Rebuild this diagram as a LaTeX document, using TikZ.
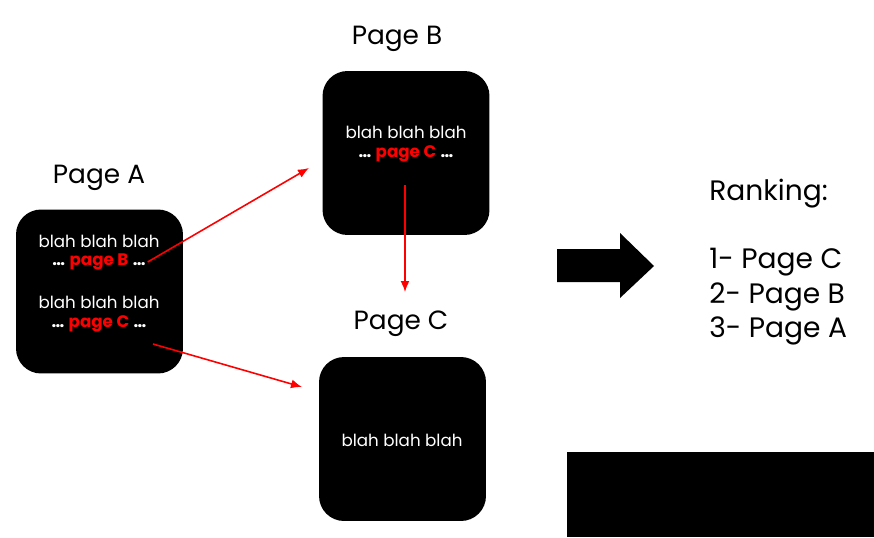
\documentclass[tikz,border=0pt]{standalone}
\usepackage{fontspec}
\setmainfont{Poppins}
\usetikzlibrary{arrows.meta}
\tikzset{
  pagebox/.style={fill=black, rounded corners=0.5cm, minimum width=3.34cm, minimum height=3.28cm},
  blah/.style={text=white, inner sep=1pt, font=\fontsize{9.5}{12}\selectfont},
  title/.style={font=\fontsize{15}{18}\selectfont},
  link/.style={red, line width=0.9pt, -{Latex[length=2.2mm,width=1.8mm]}},
}
\newcommand{\pagelink}[1]{\textbf{\ldots}\ \textcolor{red}{\textbf{#1}} \textbf{\ldots}}
\begin{document}
\begin{tikzpicture}[x=0.02cm,y=-0.02cm]
      \useasboundingbox (0,0) rectangle (874,537);
      % pages
      \draw
        (99.5,291.5) node[pagebox] (A){}
        (406,153) node[pagebox] (B){}
        (402.5,439) node[pagebox] (C){};
      \draw
        (99,178) node[title] (tA){Page A}
        (397,39) node[title] (tB){Page B}
        (401,324) node[title] (tC){Page C};
      % texts in the pages
      \node[blah] (a1) at (99,241) {blah blah blah};
      \node[blah] (a2) at (99,262) {\pagelink{page B}};
      \node[blah] (a3) at (99,302) {blah blah blah};
      \node[blah] (a4) at (99,324) {\pagelink{page C}};
      \node[blah] (b1) at (406,132) {blah blah blah};
      \node[blah] (b2) at (406,154) {\pagelink{page C}};
      \node[blah] (c1) at (402,440) {blah blah blah};
      % links
      \coordinate (a4s) at (153,344);
      \coordinate (b2s) at (405,185);
      \coordinate (inB) at (309,168);
      \coordinate (inC) at (302,387);
      \coordinate (inCt) at (405,292);
      \begin{scope}[link]
        \draw (a2.east) to (inB);
        \draw (a4s) to (inC);
        \draw (b2s) to (inCt);
      \end{scope}
      % result
      \fill (557,249) -- (620,249) -- (620,233) -- (654,266) -- (620,298)
        -- (620,282) -- (557,282) -- cycle;
      \node[anchor=west, inner sep=0pt, align=left, font=\fontsize{16}{19.5}\selectfont] (rank)
        at (709,262) {Ranking:\\ \\1- Page C\\2- Page B\\3- Page A};
      \fill (567,452) rectangle (874,537);
    \end{tikzpicture}
\end{document}
